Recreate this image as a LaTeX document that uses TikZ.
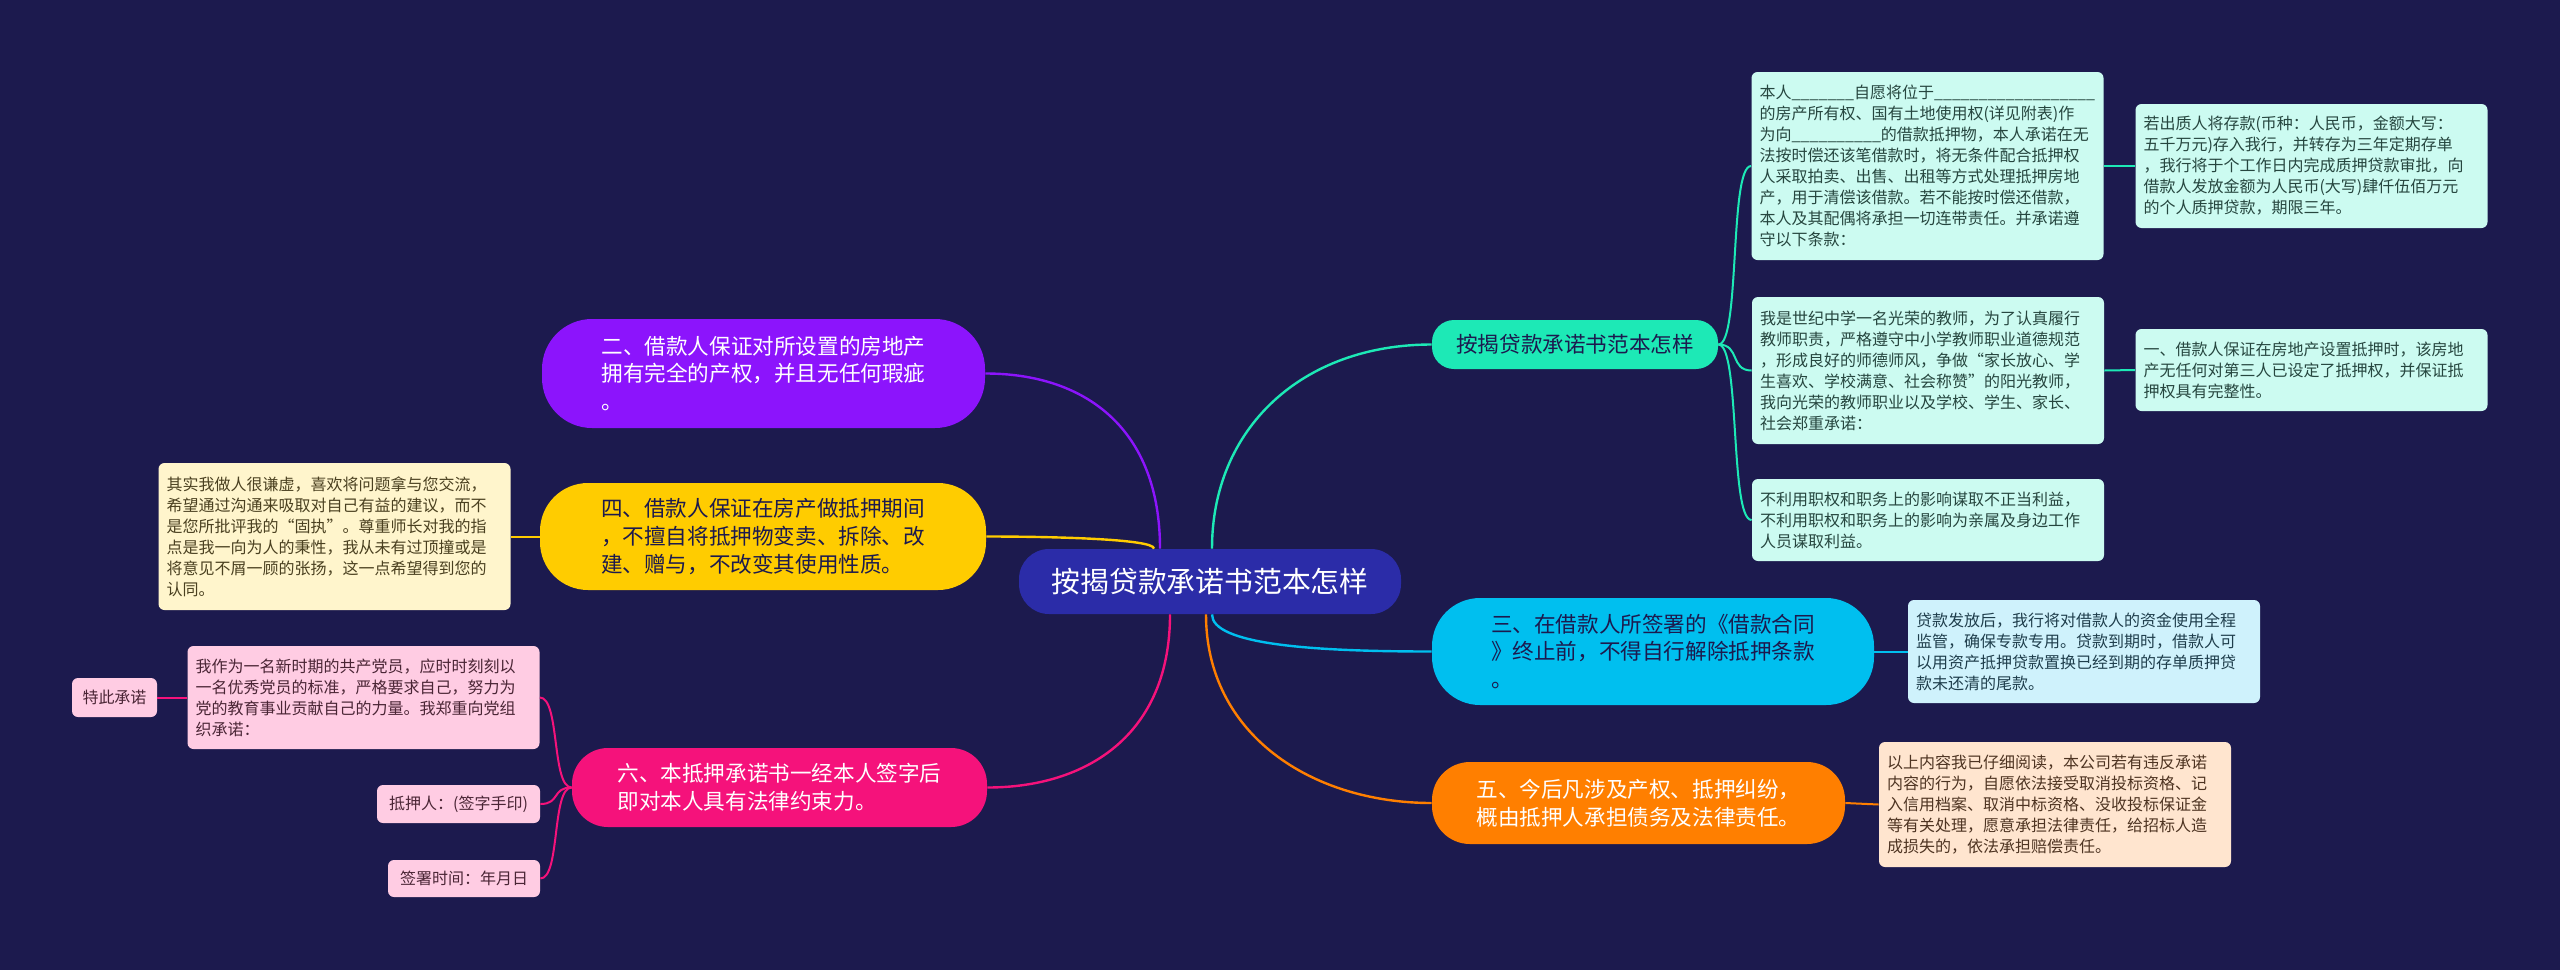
\documentclass[tikz,border=0pt]{standalone}
\usepackage{fontspec}
\setmainfont{Noto Sans CJK SC}
\usepackage{xcolor}
\usepackage{tikz}
\usetikzlibrary{calc}

\definecolor{bg}{HTML}{1C1A4E}
\definecolor{rootc}{HTML}{2B2CA8}
\definecolor{tealc}{HTML}{1DE9B6}
\definecolor{tealleaf}{HTML}{CCFBF1}
\definecolor{tealtext}{HTML}{26463F}
\definecolor{cyanc}{HTML}{00BFEF}
\definecolor{cyanleaf}{HTML}{CFF2FC}
\definecolor{cyantext}{HTML}{1F3E4C}
\definecolor{orangec}{HTML}{FF7F00}
\definecolor{orangeleaf}{HTML}{FFE5CF}
\definecolor{orangetext}{HTML}{4E3422}
\definecolor{purplec}{HTML}{8C14FC}
\definecolor{yellowc}{HTML}{FFCC00}
\definecolor{yellowleaf}{HTML}{FFF5CC}
\definecolor{yellowtext}{HTML}{4A4020}
\definecolor{pinkc}{HTML}{F5127B}
\definecolor{pinkleaf}{HTML}{FFCCE3}
\definecolor{pinktext}{HTML}{4A2535}

\begin{document}
\begin{tikzpicture}[x=0.5pt,y=-0.5pt,
  leaf/.style={rounded corners=3pt,inner xsep=4pt,inner ysep=0pt,align=left,text width=168pt,font=\fontsize{8}{10.5}\selectfont},
  tag/.style={rounded corners=3pt,inner xsep=2pt,inner ysep=0pt,fill=pinkleaf,text=pinktext,font=\fontsize{8}{9.6}\selectfont},
  branch/.style={inner xsep=0pt,inner ysep=0pt,align=left,text width=162pt,font=\fontsize{10.8}{13.8}\selectfont},
  link/.style={line width=1.2pt},
  twig/.style={line width=1pt}]
  \fill[bg] (0,0) rectangle (2560,970);

  % root
  \node[fill=rootc,text=white,rounded corners=15pt,minimum width=191pt,minimum height=32.5pt,font=\fontsize{14.4}{17}\selectfont] (root) at (1210,581.5) {按揭贷款承诺书范本怎样};

  % right side
  \node[fill=tealc,text=bg,rounded corners=11pt,minimum width=143pt,minimum height=24.5pt,font=\fontsize{10.8}{13}\selectfont] (tb) at (1575,344.5) {按揭贷款承诺书范本怎样};
  \node[leaf,fill=tealleaf,text=tealtext,minimum height=94pt] (t1) at (1927.5,166) {本人\_\_\_\_\_\_\_自愿将位于\_\_\_\_\_\_\_\_\_\_\_\_\_\_\_\_\_\_\\的房产所有权、国有土地使用权(详见附表)作\\为向\_\_\_\_\_\_\_\_\_\_的借款抵押物，本人承诺在无\\法按时偿还该笔借款时，将无条件配合抵押权\\人采取拍卖、出售、出租等方式处理抵押房地\\产，用于清偿该借款。若不能按时偿还借款，\\本人及其配偶将承担一切连带责任。并承诺遵\\守以下条款：};
  \node[leaf,fill=tealleaf,text=tealtext,minimum height=62pt] (t1c) at (2311.5,166) {若出质人将存款(币种：人民币，金额大写：\\五千万元)存入我行，并转存为三年定期存单\\，我行将于个工作日内完成质押贷款审批，向\\借款人发放金额为人民币(大写)肆仟伍佰万元\\的个人质押贷款，期限三年。};
  \node[leaf,fill=tealleaf,text=tealtext,minimum height=73.5pt] (t2) at (1928,370.5) {我是世纪中学一名光荣的教师，为了认真履行\\教师职责，严格遵守中小学教师职业道德规范\\，形成良好的师德师风，争做“家长放心、学\\生喜欢、学校满意、社会称赞”的阳光教师，\\我向光荣的教师职业以及学校、学生、家长、\\社会郑重承诺：};
  \node[leaf,fill=tealleaf,text=tealtext,minimum height=41pt] (t2c) at (2311.5,370) {一、借款人保证在房地产设置抵押时，该房地\\产无任何对第三人已设定了抵押权，并保证抵\\押权具有完整性。};
  \node[leaf,fill=tealleaf,text=tealtext,minimum height=41pt] (t3) at (1928,520) {不利用职权和职务上的影响谋取不正当利益，\\不利用职权和职务上的影响为亲属及身边工作\\人员谋取利益。};

  \node[branch,fill=cyanc,text=bg,rounded corners=24pt,minimum width=221pt,minimum height=53.5pt] (cb) at (1653,651.5) {三、在借款人所签署的《借款合同\\》终止前，不得自行解除抵押条款\\。};
  \node[leaf,fill=cyanleaf,text=cyantext,minimum height=51.5pt] (c1) at (2084,651.5) {贷款发放后，我行将对借款人的资金使用全程\\监管，确保专款专用。贷款到期时，借款人可\\以用资产抵押贷款置换已经到期的存单质押贷\\款未还清的尾款。};

  \node[branch,fill=orangec,text=white,rounded corners=19pt,minimum width=206.5pt,minimum height=41pt] (ob) at (1638.5,803) {五、今后凡涉及产权、抵押纠纷，\\概由抵押人承担债务及法律责任。};
  \node[leaf,fill=orangeleaf,text=orangetext,minimum height=62.5pt] (o1) at (2055,804.5) {以上内容我已仔细阅读，本公司若有违反承诺\\内容的行为，自愿依法接受取消投标资格、记\\入信用档案、取消中标资格、没收投标保证金\\等有关处理，愿意承担法律责任，给招标人造\\成损失的，依法承担赔偿责任。};

  % left side
  \node[branch,fill=purplec,text=white,rounded corners=25pt,minimum width=221.5pt,minimum height=54.5pt] (pb) at (763.5,373.5) {二、借款人保证对所设置的房地产\\拥有完全的产权，并且无任何瑕疵\\。};

  \node[branch,fill=yellowc,text=bg,rounded corners=24pt,minimum width=223pt,minimum height=53.5pt] (yb) at (763,536.5) {四、借款人保证在房产做抵押期间\\，不擅自将抵押物变卖、拆除、改\\建、赠与，不改变其使用性质。};
  \node[leaf,fill=yellowleaf,text=yellowtext,minimum height=73.5pt] (y1) at (334.5,536.5) {其实我做人很谦虚，喜欢将问题拿与您交流，\\希望通过沟通来吸取对自己有益的建议，而不\\是您所批评我的“固执”。尊重师长对我的指\\点是我一向为人的秉性，我从未有过顶撞或是\\将意见不屑一顾的张扬，这一点希望得到您的\\认同。};

  \node[branch,fill=pinkc,text=white,rounded corners=18pt,minimum width=207.5pt,minimum height=39.5pt] (kb) at (779.5,787.5) {六、本抵押承诺书一经本人签字后\\即对本人具有法律约束力。};
  \node[leaf,fill=pinkleaf,text=pinktext,minimum height=51.5pt] (k1) at (363.5,697.5) {我作为一名新时期的共产党员，应时时刻刻以\\一名优秀党员的标准，严格要求自己，努力为\\党的教育事业贡献自己的力量。我郑重向党组\\织承诺：};
  \node[tag,minimum width=42.5pt,minimum height=19.5pt] (k0) at (114.5,697.5) {特此承诺};
  \node[tag,minimum width=81.5pt,minimum height=19pt] (k2) at (458.5,804) {抵押人：(签字手印)};
  \node[tag,minimum width=76pt,minimum height=18.5pt] (k3) at (464,878.5) {签署时间：年月日};

  % connectors from the root
  \draw[link,tealc] ([xshift=1pt]root.north) .. controls +(0,-120) and +(-130,0) .. (tb.west);
  \draw[link,cyanc] ([xshift=1pt]root.south) .. controls +(0,30) and +(-120,0) .. (cb.west);
  \draw[link,orangec] ([xshift=-2pt]root.south) .. controls +(0,120) and +(-120,0) .. (ob.west);
  \draw[link,purplec] ([xshift=-25pt]root.north) .. controls +(0,-120) and +(100,0) .. (pb.east);
  \draw[link,yellowc] ([xshift=-28pt]root.north) .. controls +(0,-10) and +(60,0) .. (yb.east);
  \draw[link,pinkc] ([xshift=-20pt]root.south) .. controls +(0,120) and +(100,0) .. (kb.east);

  % connectors to the leaves
  \draw[twig,tealc] (tb.east) .. controls +(22,0) and +(-22,0) .. (t1.west);
  \draw[twig,tealc] (tb.east) .. controls +(22,0) and +(-22,0) .. (t2.west);
  \draw[twig,tealc] (tb.east) .. controls +(22,0) and +(-22,0) .. (t3.west);
  \draw[twig,tealc] (t1.east) -- (t1c.west);
  \draw[twig,tealc] (t2.east) -- (t2c.west);
  \draw[twig,cyanc] (cb.east) -- (c1.west);
  \draw[twig,orangec] (ob.east) -- (o1.west);
  \draw[twig,yellowc] (yb.west) -- (y1.east);
  \draw[twig,pinkc] (kb.west) .. controls +(-20,0) and +(20,0) .. (k1.east);
  \draw[twig,pinkc] (kb.west) .. controls +(-20,0) and +(20,0) .. (k2.east);
  \draw[twig,pinkc] (kb.west) .. controls +(-20,0) and +(20,0) .. (k3.east);
  \draw[twig,pinkc] (k1.west) -- (k0.east);
\end{tikzpicture}
\end{document}
